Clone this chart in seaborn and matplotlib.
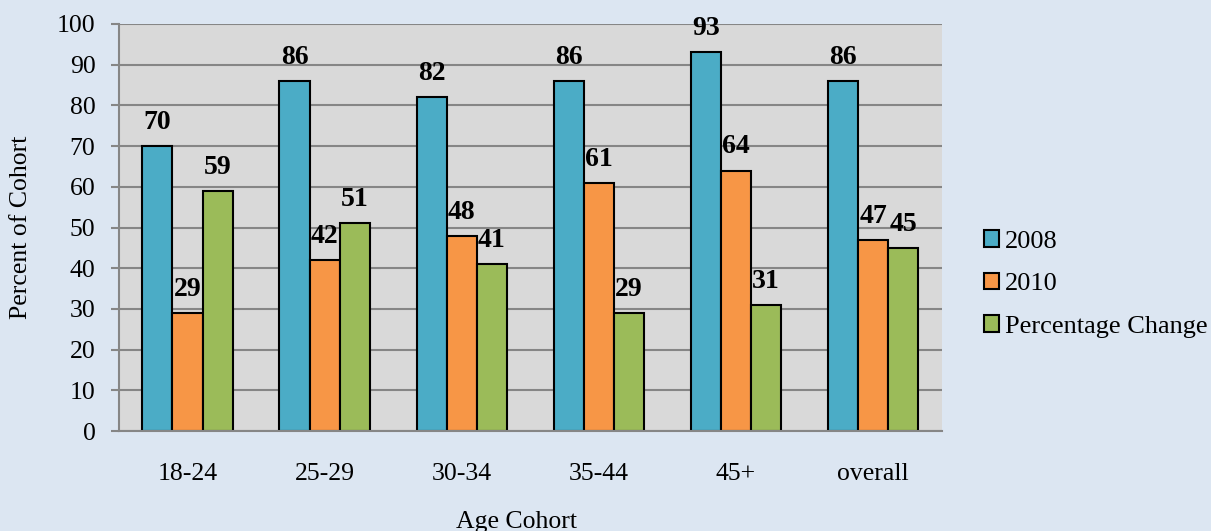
import matplotlib
matplotlib.use("Agg")
import matplotlib.pyplot as plt
import seaborn as sns
import pandas as pd

cohorts = ["18-24", "25-29", "30-34", "35-44", "45+", "overall"]
series = ["2008", "2010", "Percentage Change"]
vals_2008 = [70, 86, 82, 86, 93, 86]
vals_2010 = [29, 42, 48, 61, 64, 47]
vals_change = [59, 51, 41, 29, 31, 45]
colors = ["#4bacc6", "#f79646", "#9bbb59"]

df = pd.DataFrame({
    "cohort": cohorts * 3,
    "series": [series[0]] * 6 + [series[1]] * 6 + [series[2]] * 6,
    "value": vals_2008 + vals_2010 + vals_change,
})

sns.set_style("white")
plt.rcParams["font.family"] = ["Liberation Serif", "DejaVu Serif"]
plt.rcParams["text.color"] = "black"
plt.rcParams["axes.labelcolor"] = "black"
plt.rcParams["xtick.color"] = "black"
plt.rcParams["ytick.color"] = "black"

fig = plt.figure(figsize=(12.11, 5.31), dpi=100, facecolor="#dce6f2")
ax = fig.add_axes([119 / 1211, 1 - 431 / 531, (941.7 - 119) / 1211, (431 - 24) / 531])
ax.set_facecolor("#d9d9d9")

sns.barplot(data=df, x="cohort", y="value", hue="series", order=cohorts,
            hue_order=series, palette=colors, width=0.66, edgecolor="black",
            linewidth=1.5, saturation=1, ax=ax, errorbar=None)

for cont in ax.containers:
    ax.bar_label(cont, fmt="%d", padding=8, fontsize=20, fontweight="bold",
                 color="black")

ax.set_ylim(0, 100)
ax.set_xlim(-0.5, 5.5)
ax.set_yticks(range(0, 101, 10))
ax.yaxis.grid(True, color="#868686", linewidth=1.5)
ax.set_axisbelow(True)

for side in ["top", "right"]:
    ax.spines[side].set_visible(False)
for side in ["left", "bottom"]:
    ax.spines[side].set_color("#868686")
    ax.spines[side].set_linewidth(1.5)

ax.tick_params(axis="y", length=6, width=1.5, color="#868686", pad=11,
               labelsize=18.5, labelcolor="black", left=True)
ax.tick_params(axis="x", length=0, pad=23, labelsize=18.5, labelcolor="black")

ax.set_xlabel("Age Cohort", fontsize=18.5, color="black")
ax.set_ylabel("Percent of Cohort", fontsize=18.5, color="black")
ax.xaxis.set_label_coords(0.483, -0.197)
ax.yaxis.set_label_coords(-0.106, 0.5)

handles, labels = ax.get_legend_handles_labels()
ax.legend(handles, labels, loc="center left",
          bbox_to_anchor=(973 / 1211, 1 - 284 / 531),
          bbox_transform=fig.transFigure, frameon=False, fontsize=19,
          handlelength=0.6, handleheight=0.6, handletextpad=0.2,
          labelspacing=0.75, borderaxespad=0)

fig.savefig("out.png", dpi=100, facecolor=fig.get_facecolor())
